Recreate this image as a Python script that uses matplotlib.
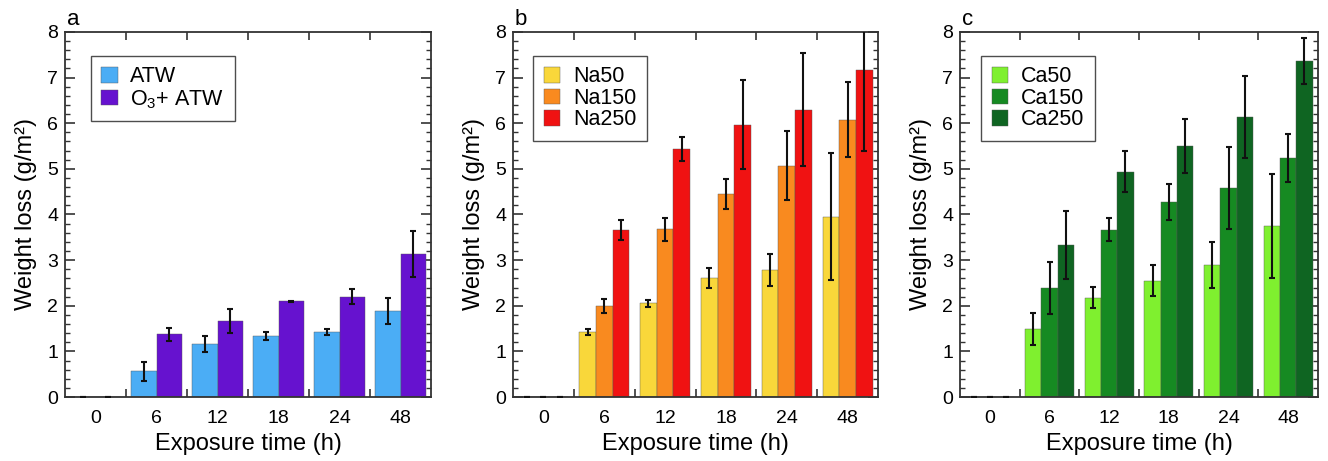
import matplotlib
matplotlib.use("Agg")
import matplotlib.pyplot as plt
import numpy as np
from matplotlib.ticker import MultipleLocator, FixedLocator

plt.rcParams['font.family'] = ['Liberation Sans', 'DejaVu Sans']
plt.rcParams['mathtext.fontset'] = 'custom'
plt.rcParams['mathtext.rm'] = 'Liberation Sans'
plt.rcParams['mathtext.it'] = 'Liberation Sans:italic'

categories = ['0', '6', '12', '18', '24', '48']

# Panel a
atw = [0, 0.56, 1.16, 1.33, 1.42, 1.89]
atw_err = [0, 0.21, 0.17, 0.09, 0.06, 0.29]
o3atw = [0, 1.37, 1.66, 2.10, 2.20, 3.14]
o3atw_err = [0, 0.15, 0.26, 0.015, 0.16, 0.50]

# Panel b
na50 = [0, 1.43, 2.05, 2.60, 2.79, 3.95]
na50_err = [0, 0.07, 0.08, 0.22, 0.35, 1.39]
na150 = [0, 1.99, 3.68, 4.44, 5.07, 6.08]
na150_err = [0, 0.15, 0.25, 0.33, 0.75, 0.83]
na250 = [0, 3.66, 5.43, 5.97, 6.30, 7.17]
na250_err = [0, 0.22, 0.26, 0.98, 1.24, 1.77]

# Panel c
ca50 = [0, 1.50, 2.18, 2.55, 2.89, 3.75]
ca50_err = [0, 0.35, 0.24, 0.34, 0.50, 1.14]
ca150 = [0, 2.39, 3.67, 4.28, 4.58, 5.24]
ca150_err = [0, 0.57, 0.26, 0.39, 0.89, 0.53]
ca250 = [0, 3.33, 4.94, 5.50, 6.13, 7.36]
ca250_err = [0, 0.74, 0.45, 0.60, 0.90, 0.50]

panels = [
    ('a', [('ATW', atw, atw_err, '#4BADF5'),
           (r'O$_\mathregular{3}$+ ATW', o3atw, o3atw_err, '#6612CF')]),
    ('b', [('Na50', na50, na50_err, '#F9D73A'),
           ('Na150', na150, na150_err, '#F98A1F'),
           ('Na250', na250, na250_err, '#F01212')]),
    ('c', [('Ca50', ca50, ca50_err, '#7FF02F'),
           ('Ca150', ca150, ca150_err, '#168A22'),
           ('Ca250', ca250, ca250_err, '#0F6522')]),
]

W, H = 1328, 461
fig = plt.figure(figsize=(W / 100, H / 100), dpi=100)

axes_px = [(65, 431), (513, 878), (960, 1318)]
top_px, bot_px = 32, 397
legend_x = [0.07, 0.055, 0.058]

x = np.arange(len(categories))
for (letter, series), (l, r), lx in zip(panels, axes_px, legend_x):
    ax = fig.add_axes([l / W, (H - bot_px) / H, (r - l) / W, (bot_px - top_px) / H])
    n = len(series)
    total = 0.82
    bw = total / n
    for i, (lab, vals, errs, col) in enumerate(series):
        pos = x - total / 2 + bw * (i + 0.5)
        ax.bar(pos, vals, width=bw, color=col, edgecolor='#555555', linewidth=0.3,
               label=lab, zorder=2)
        ax.errorbar(pos, vals, yerr=errs, fmt='none', ecolor='#111111',
                    elinewidth=1.5, capsize=2.5, capthick=1.5, zorder=3)
    ax.set_xlim(-0.5, len(categories) - 0.5)
    ax.set_ylim(0, 8)
    ax.set_xticks(x)
    ax.set_xticklabels(categories)
    ax.xaxis.set_minor_locator(FixedLocator(np.arange(0.5, len(categories) - 0.5, 1)))
    ax.yaxis.set_major_locator(MultipleLocator(1))
    ax.yaxis.set_minor_locator(MultipleLocator(0.2))
    ax.tick_params(axis='x', which='major', length=0, labelsize=14, pad=9)
    ax.tick_params(axis='x', which='minor', length=6, width=1.2, direction='in',
                   top=True, bottom=True, color='#333333')
    ax.tick_params(axis='y', which='major', length=7, width=1.2, direction='in',
                   left=True, right=True, labelsize=14, color='#333333', pad=5)
    ax.tick_params(axis='y', which='minor', length=3.5, width=1.0, direction='in',
                   left=True, right=True, color='#333333')
    for s in ax.spines.values():
        s.set_linewidth(1.3)
        s.set_color('#333333')
    ax.set_xlabel('Exposure time (h)', fontsize=17, labelpad=5)
    ax.set_ylabel('Weight loss (g/m²)', fontsize=17, labelpad=7)
    ax.text(0.005, 1.005, letter, transform=ax.transAxes, fontsize=16,
            ha='left', va='bottom')
    leg = ax.legend(loc='upper left', bbox_to_anchor=(lx, 0.935), fontsize=15.5,
                    frameon=True, fancybox=False, edgecolor='#222222',
                    handlelength=0.75, handleheight=0.75, handletextpad=0.6,
                    labelspacing=0.02, borderpad=0.5, borderaxespad=0)
    leg.get_frame().set_linewidth(1.0)

fig.savefig('out.png', dpi=100)
